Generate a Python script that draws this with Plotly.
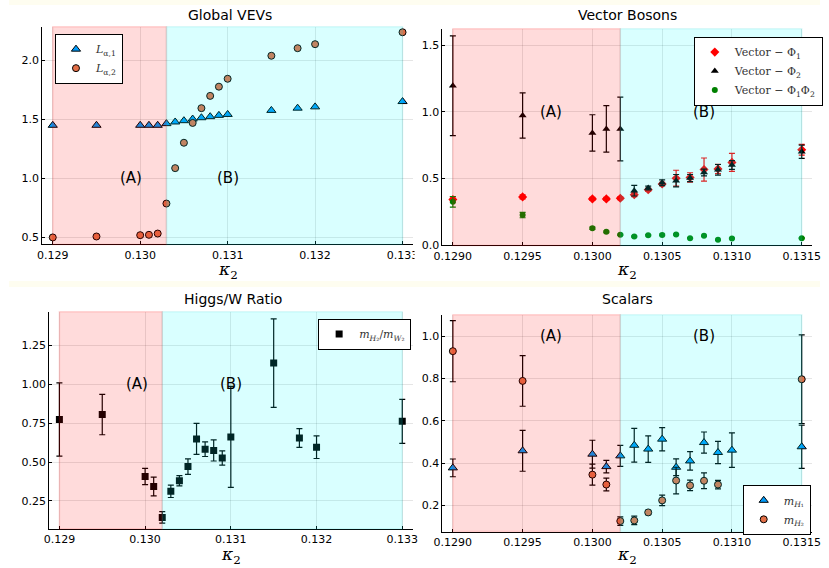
import plotly.graph_objects as go

# ---------------- data ----------------
k_vev = [0.129, 0.1295, 0.130, 0.1301, 0.1302, 0.1303, 0.1304, 0.1305, 0.1306,
         0.1307, 0.1308, 0.1309, 0.131, 0.1315, 0.1318, 0.132, 0.133]
L1 = [1.45, 1.45, 1.45, 1.45, 1.45, 1.464, 1.478, 1.489, 1.503, 1.514, 1.523,
      1.534, 1.542, 1.576, 1.595, 1.606, 1.651]
L2 = [0.50, 0.508, 0.519, 0.522, 0.533, 0.787, 1.087, 1.302, 1.47, 1.595, 1.699,
      1.777, 1.844, 2.039, 2.103, 2.137, 2.238]

k_vec = [0.129, 0.1295, 0.1300, 0.1301, 0.1302, 0.1303, 0.1304, 0.1305, 0.1306,
         0.1307, 0.1308, 0.1309, 0.1310, 0.1315]
phi1 = [0.340, 0.360, 0.345, 0.345, 0.350, 0.377, 0.414, 0.457, 0.501, 0.507,
        0.566, 0.571, 0.620, 0.715]
phi1_err = [0.02, 0.015, 0.012, 0.012, 0.01, 0.015, 0.012, 0.012, 0.06, 0.035,
            0.087, 0.035, 0.068, 0.04]
phi2 = [1.197, 0.973, 0.842, 0.872, 0.872, 0.407, 0.427, 0.467, 0.482, 0.502,
        0.544, 0.564, 0.601, 0.700]
phi2_err = [0.376, 0.17, 0.137, 0.175, 0.24, 0.04, 0.015, 0.022, 0.047, 0.027,
            0.025, 0.04, 0.033, 0.05]
phi12 = [0.323, 0.223, 0.124, 0.097, 0.075, 0.062, 0.072, 0.074, 0.077, 0.049,
         0.067, 0.037, 0.047, 0.049]
phi12_err = [0.04, 0.02, 0.008, 0.006, 0.005, 0.005, 0.005, 0.005, 0.005, 0.004,
             0.004, 0.004, 0.004, 0.004]

k_hw = [0.129, 0.1295, 0.1300, 0.1301, 0.1302, 0.1303, 0.1304, 0.1305, 0.1306,
        0.1307, 0.1308, 0.1309, 0.131, 0.1315, 0.1318, 0.132, 0.133]
hw = [0.774, 0.806, 0.407, 0.343, 0.144, 0.312, 0.38, 0.471, 0.649, 0.583, 0.575,
      0.526, 0.662, 1.137, 0.655, 0.596, 0.762]
hw_err = [0.236, 0.13, 0.052, 0.06, 0.037, 0.04, 0.033, 0.05, 0.1, 0.047, 0.068,
          0.046, 0.325, 0.285, 0.06, 0.073, 0.142]

k_h1 = [0.129, 0.1295, 0.1300, 0.1301, 0.1302, 0.1303, 0.1304, 0.1305, 0.1306,
        0.1307, 0.1308, 0.1309, 0.1310, 0.1315]
mH1 = [0.377, 0.458, 0.442, 0.383, 0.434, 0.484, 0.466, 0.513, 0.38, 0.41, 0.497,
       0.450, 0.461, 0.477]
mH1_err = [0.042, 0.097, 0.066, 0.03, 0.05, 0.08, 0.063, 0.055, 0.04, 0.044, 0.05,
           0.053, 0.082, 0.102]
k_h2 = [0.129, 0.1295, 0.1300, 0.1301, 0.1302, 0.1303, 0.1304, 0.1305, 0.1306,
        0.1307, 0.1308, 0.1309, 0.1315]
mH2 = [0.93, 0.789, 0.345, 0.298, 0.125, 0.128, 0.166, 0.223, 0.317, 0.294, 0.316,
       0.298, 0.797]
mH2_err = [0.145, 0.12, 0.05, 0.03, 0.02, 0.02, 0.01, 0.025, 0.063, 0.025, 0.037,
           0.02, 0.21]

# region boundaries per panel: (start A, A/B boundary, end B)
regions = {1: (0.129, 0.1303, 0.133), 2: (0.129, 0.1302, 0.1315),
           3: (0.129, 0.1302, 0.133), 4: (0.129, 0.1302, 0.1315)}
titles = {1: "Global VEVs", 2: "Vector Bosons", 3: "Higgs/W Ratio", 4: "Scalars"}

W, H = 829, 568
BLUE = "#009AFA"
ORANGE = "#E36F47"

fig = go.Figure()

def errb(arr, color):
    return dict(type="data", array=arr, visible=True, color=color, thickness=1.2, width=3)

# Panel 1
fig.add_trace(go.Scatter(x=k_vev, y=L1, mode="markers", name="<i>L</i><sub>α,1</sub>",
                         marker=dict(symbol="triangle-up", size=8, color=BLUE,
                                     line=dict(color="black", width=1)),
                         xaxis="x", yaxis="y", legend="legend"))
fig.add_trace(go.Scatter(x=k_vev, y=L2, mode="markers", name="<i>L</i><sub>α,2</sub>",
                         marker=dict(symbol="circle", size=7, color=ORANGE,
                                     line=dict(color="black", width=1)),
                         xaxis="x", yaxis="y", legend="legend"))
# Panel 2
fig.add_trace(go.Scatter(x=k_vec, y=phi1, mode="markers", name="Vector − Φ<sub>1</sub>",
                         error_y=errb(phi1_err, "red"),
                         marker=dict(symbol="diamond", size=7, color="red", line=dict(width=0)),
                         xaxis="x2", yaxis="y2", legend="legend2"))
fig.add_trace(go.Scatter(x=k_vec, y=phi2, mode="markers", name="Vector − Φ<sub>2</sub>",
                         error_y=errb(phi2_err, "black"),
                         marker=dict(symbol="triangle-up", size=7, color="black", line=dict(width=0)),
                         xaxis="x2", yaxis="y2", legend="legend2"))
fig.add_trace(go.Scatter(x=k_vec, y=phi12, mode="markers", name="Vector − Φ<sub>1</sub>Φ<sub>2</sub>",
                         error_y=errb(phi12_err, "green"),
                         marker=dict(symbol="circle", size=6, color="green", line=dict(width=0)),
                         xaxis="x2", yaxis="y2", legend="legend2"))
# Panel 3
fig.add_trace(go.Scatter(x=k_hw, y=hw, mode="markers",
                         name="<i>m</i><sub><i>H</i>₂</sub>/<i>m</i><sub><i>W</i>₂</sub>",
                         error_y=errb(hw_err, "black"),
                         marker=dict(symbol="square", size=7, color="black", line=dict(width=0)),
                         xaxis="x3", yaxis="y3", legend="legend3"))
# Panel 4
fig.add_trace(go.Scatter(x=k_h1, y=mH1, mode="markers", name="<i>m</i><sub><i>H</i>₁</sub>",
                         error_y=errb(mH1_err, "black"),
                         marker=dict(symbol="triangle-up", size=8, color=BLUE,
                                     line=dict(color="black", width=1)),
                         xaxis="x4", yaxis="y4", legend="legend4"))
fig.add_trace(go.Scatter(x=k_h2, y=mH2, mode="markers", name="<i>m</i><sub><i>H</i>₂</sub>",
                         error_y=errb(mH2_err, "black"),
                         marker=dict(symbol="circle", size=7, color=ORANGE,
                                     line=dict(color="black", width=1)),
                         xaxis="x4", yaxis="y4", legend="legend4"))

def px_x(p):
    return p / W

def px_y(p):
    return 1 - p / H

# plot-area boxes in pixels (left, right, top, bottom)
boxes = {1: (34, 413, 27, 247), 2: (443, 821, 29, 248),
         3: (41, 412.5, 315, 534.7), 4: (443, 821, 318, 537.3)}
xr = {1: [0.12888, 0.13312], 2: [0.128925, 0.131575],
      3: [0.12888, 0.13312], 4: [0.128925, 0.131575]}
yr = {1: [0.441, 2.285], 2: [-0.005, 1.627], 3: [0.069, 1.468], 4: [0.075, 1.103]}
xt = {1: [0.129, 0.130, 0.131, 0.132, 0.133],
      2: [0.1290, 0.1295, 0.1300, 0.1305, 0.1310, 0.1315],
      3: [0.129, 0.130, 0.131, 0.132, 0.133],
      4: [0.1290, 0.1295, 0.1300, 0.1305, 0.1310, 0.1315]}
xf = {1: ".3f", 2: ".4f", 3: ".3f", 4: ".4f"}
yt = {1: [0.5, 1.0, 1.5, 2.0], 2: [0.0, 0.5, 1.0, 1.5],
      3: [0.25, 0.5, 0.75, 1.0, 1.25], 4: [0.2, 0.4, 0.6, 0.8, 1.0]}
yf = {1: ".1f", 2: ".1f", 3: ".2f", 4: ".1f"}

tickfont = dict(family="DejaVu Sans", size=11, color="black")
layout = dict(width=W, height=H, margin=dict(l=0, r=0, t=0, b=0),
              paper_bgcolor="white", plot_bgcolor="white", showlegend=True)
shapes = []
annotations = []
for i in range(1, 5):
    l, r, t, b = boxes[i]
    sx = "" if i == 1 else str(i)
    layout["xaxis" + sx] = dict(domain=[px_x(l), px_x(r)], range=xr[i], anchor="y" + sx,
                                tickvals=xt[i], tickformat=xf[i], showgrid=True,
                                gridcolor="rgba(0,0,0,0.1)", gridwidth=1,
                                showline=True, linecolor="black", linewidth=1,
                                ticks="inside", ticklen=3, tickcolor="black",
                                tickfont=tickfont, zeroline=False)
    layout["yaxis" + sx] = dict(domain=[px_y(b), px_y(t)], range=yr[i], anchor="x" + sx,
                                tickvals=yt[i], tickformat=yf[i], showgrid=True,
                                gridcolor="rgba(0,0,0,0.1)", gridwidth=1,
                                showline=True, linecolor="black", linewidth=1,
                                ticks="inside", ticklen=3, tickcolor="black",
                                tickfont=tickfont, zeroline=False)
    a0, ab, b1 = regions[i]
    xref = "x" + sx
    yref = "y" + sx + " domain"
    shapes.append(dict(type="rect", xref=xref, yref=yref, x0=a0, x1=ab, y0=0, y1=1,
                       fillcolor="rgba(255,0,0,0.14)", layer="above",
                       line=dict(color="rgba(255,0,0,0.14)", width=1.5)))
    shapes.append(dict(type="rect", xref=xref, yref=yref, x0=ab, x1=b1, y0=0, y1=1,
                       fillcolor="rgba(0,255,255,0.15)", layer="above",
                       line=dict(color="rgba(0,200,200,0.12)", width=1.5)))
    # region labels
    xA = 0.1299 if i in (1, 3) else 0.1297
    xB = 0.131 if i in (1, 3) else 0.1308
    for lab, xv in (("(A)", xA), ("(B)", xB)):
        annotations.append(dict(x=xv, y=1.0, xref=xref, yref="y" + sx, text=lab,
                                showarrow=False, xanchor="center", yanchor="middle",
                                font=dict(family="DejaVu Sans", size=15, color="black")))
    # title
    ty = 15 if i in (1, 2) else 302
    annotations.append(dict(x=(l + r) / 2 / W + (0.003 if i in (1, 3) else 0), y=px_y(ty),
                            xref="paper", yref="paper", text=titles[i], showarrow=False,
                            xanchor="center", yanchor="middle",
                            font=dict(family="DejaVu Sans", size=14, color="black")))
    # x axis title
    kyy = 273 if i in (1, 2) else 561
    annotations.append(dict(x=(l + r) / 2 / W, y=px_y(kyy), xref="paper", yref="paper",
                            text="<i>κ</i><sub>2</sub>", showarrow=False,
                            xanchor="center", yanchor="middle",
                            font=dict(family="DejaVu Serif", size=17, color="black")))

# faint cream strips at top of each row
for y0, y1 in ((0, 5), (284, 290)):
    shapes.append(dict(type="rect", xref="paper", yref="paper", x0=0, x1=1,
                       y0=px_y(y1), y1=px_y(y0), fillcolor="#FEFDF0", line=dict(width=0),
                       layer="below"))
# clip the last tick label of the top-left panel at the panel edge
shapes.append(dict(type="rect", xref="paper", yref="paper", x0=px_x(414.5), x1=px_x(420),
                   y0=px_y(263), y1=px_y(249), fillcolor="white", line=dict(width=0),
                   layer="above"))

layout["shapes"] = shapes
layout["annotations"] = annotations

legfont = dict(family="DejaVu Serif", size=11, color="#333")
base_leg = dict(bgcolor="white", bordercolor="black", borderwidth=1, font=legfont,
                xanchor="left", yanchor="top", tracegroupgap=0, itemwidth=30,
                xref="paper", yref="paper")
layout["legend"] = dict(base_leg, x=px_x(47), y=px_y(34))
layout["legend2"] = dict(base_leg, x=px_x(700), y=px_y(37))
layout["legend3"] = dict(base_leg, x=px_x(316), y=px_y(322))
layout["legend4"] = dict(base_leg, x=px_x(750), y=px_y(490))

fig.update_layout(**layout)
fig.write_html("out.html")
